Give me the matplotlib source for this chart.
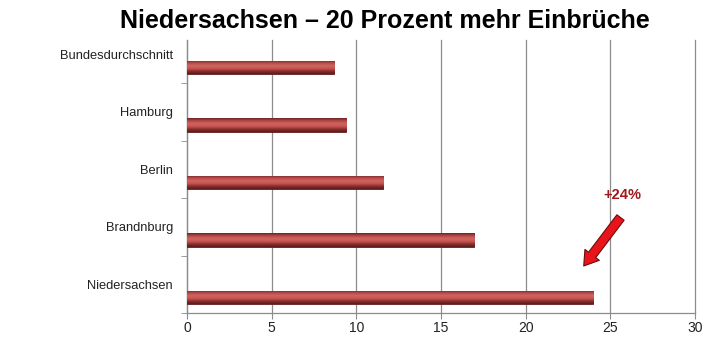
import numpy as np
import matplotlib
matplotlib.use("Agg")
import matplotlib.pyplot as plt
from matplotlib.colors import LinearSegmentedColormap

# data
laender = ["Niedersachsen", "Brandnburg", "Berlin", "Hamburg", "Bundesdurchschnitt"]
anstieg = [24.0, 16.95, 11.6, 9.4, 8.7]
x_ticks = [0, 5, 10, 15, 20, 25, 30]
title = "Niedersachsen \u2013 20 Prozent mehr Einbrüche"
callout = "+24%"

plt.rcParams["font.family"] = ["Liberation Sans", "DejaVu Sans"]

fig = plt.figure(figsize=(7.2, 3.4), dpi=100)
ax = fig.add_axes([187 / 720, 1 - 313 / 340, 508 / 720, 273 / 340])

ypos = np.arange(len(laender))
bar_offset = -0.23
bars = ax.barh(ypos + bar_offset, anstieg, height=0.23, color="#c0504d",
               edgecolor="#5a1c1c", linewidth=0.6, zorder=3)

# shaded look like the old excel bars
cmap = LinearSegmentedColormap.from_list(
    "bar", ["#6e2222", "#b44a48", "#cf6461", "#c65552", "#8a2e2d", "#5a1c1c"])
grad = np.linspace(0, 1, 64).reshape(-1, 1)
for b in bars:
    x0, y0, w, h = b.get_x(), b.get_y(), b.get_width(), b.get_height()
    im = ax.imshow(grad, cmap=cmap, aspect="auto", origin="upper",
                   extent=[x0, x0 + w, y0, y0 + h], zorder=4)
    im.set_clip_path(b)

ax.set_xlim(0, 30)
ax.set_ylim(-0.5, 4.25)
ax.set_xticks(x_ticks)
ax.set_yticks(ypos)
ax.set_yticklabels(laender)
ax.set_yticks(np.arange(-0.5, 4.5, 1), minor=True)
ax.tick_params(axis="y", which="major", length=0, pad=10, labelsize=9.3, labelcolor="#222222")
ax.tick_params(axis="y", which="minor", length=4, color="#8c8c8c")
ax.tick_params(axis="x", length=4, color="#8c8c8c", labelsize=10, labelcolor="#222222", pad=2)

ax.grid(axis="x", color="#8c8c8c", linewidth=0.9, zorder=1)
for gl in ax.get_xgridlines():
    gl.set_clip_on(False)
for s in ["top", "right"]:
    ax.spines[s].set_visible(False)
for s in ["left", "bottom"]:
    ax.spines[s].set_color("#8c8c8c")
    ax.spines[s].set_linewidth(0.9)

# callout arrow for Niedersachsen
ax.annotate("", xy=(23.33, 0.28), xytext=(25.7, 1.2),
            arrowprops=dict(arrowstyle="simple,head_length=1.0,head_width=1.3,tail_width=0.65",
                            fc="#e8141b", ec="#6b0d0d", lw=0.8), zorder=6)
ax.text(25.7, 1.55, callout, color="#a3161a", fontsize=10.5, fontweight="bold",
        ha="center", va="center", zorder=6)

fig.text(0.535, 0.938, title, ha="center", va="center", fontsize=18, fontweight="bold",
         family=["Liberation Sans Narrow", "Liberation Sans", "DejaVu Sans"])

fig.savefig("out.png", dpi=100, facecolor="white")
